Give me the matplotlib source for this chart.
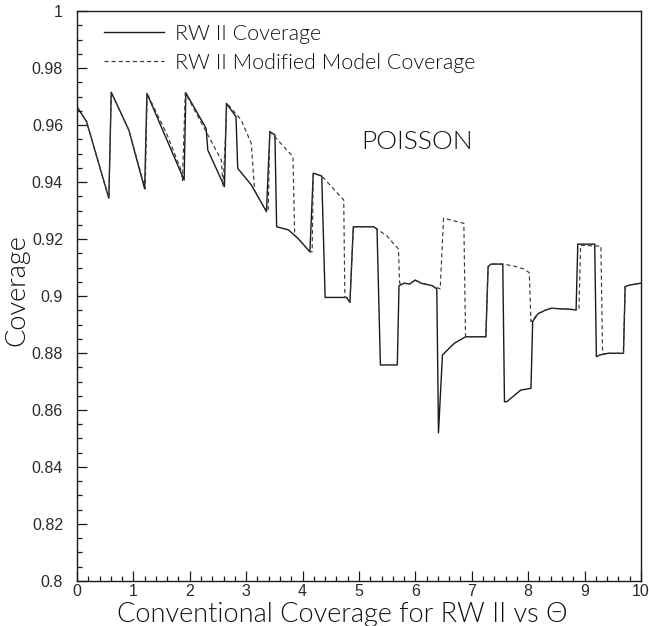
import matplotlib
matplotlib.use("Agg")
import numpy as np
from matplotlib import pyplot as plt
from matplotlib.ticker import MultipleLocator

# RW II coverage (solid)
rw_x = [0.00, 0.17, 0.565, 0.608, 0.92, 1.20, 1.24, 1.90, 1.93, 2.29, 2.32, 2.615,
        2.65, 2.82, 2.85, 3.09, 3.36, 3.42, 3.51, 3.54, 3.75, 3.92, 4.13, 4.19,
        4.34, 4.40, 4.78, 4.84, 4.90, 5.26, 5.32, 5.38, 5.68, 5.71, 5.80, 5.90,
        6.00, 6.10, 6.30, 6.38, 6.41, 6.48, 6.69, 6.89, 7.25, 7.29, 7.34, 7.55,
        7.58, 7.62, 7.87, 8.05, 8.08, 8.17, 8.30, 8.41, 8.77, 8.85, 8.88, 9.18,
        9.21, 9.27, 9.42, 9.69, 9.72, 9.81, 10.0]
rw_y = [0.9664, 0.9612, 0.9343, 0.9715, 0.9582, 0.9376, 0.9711, 0.9407, 0.9713, 0.9588, 0.9512, 0.9384,
        0.9676, 0.9629, 0.9448, 0.9390, 0.9296, 0.9577, 0.9565, 0.9243, 0.9232, 0.9202, 0.9155, 0.9431,
        0.9421, 0.8995, 0.8995, 0.8978, 0.9243, 0.9243, 0.9235, 0.8758, 0.8758, 0.9036, 0.9045, 0.9042,
        0.9056, 0.9045, 0.9036, 0.9025, 0.8520, 0.8793, 0.8834, 0.8857, 0.8857, 0.9103, 0.9112, 0.9112,
        0.8629, 0.8629, 0.8670, 0.8676, 0.8910, 0.8937, 0.8950, 0.8957, 0.8953, 0.8951, 0.9182, 0.9182,
        0.8787, 0.8793, 0.8799, 0.8799, 0.9033, 0.9039, 0.9045]

# RW II modified model coverage (dashed)
mod_x = [0.00, 0.17, 0.565, 0.608, 0.92, 1.21, 1.245, 1.60, 1.84, 1.87, 1.92, 2.56,
         2.59, 2.66, 2.91, 3.09, 3.15, 3.36, 3.39, 3.42, 3.83, 3.86, 3.92, 4.13,
         4.17, 4.19, 4.34, 4.73, 4.75, 4.78, 4.84, 4.90, 5.26, 5.32, 5.50, 5.62,
         5.70, 5.72, 5.80, 5.90, 6.00, 6.10, 6.30, 6.44, 6.50, 6.86, 6.89, 7.25,
         7.29, 7.34, 7.55, 7.75, 7.92, 8.02, 8.05, 8.17, 8.30, 8.41, 8.77, 8.90,
         8.93, 9.29, 9.32, 9.42, 9.69, 9.72, 9.81, 10.0]
mod_y = [0.9664, 0.9612, 0.9343, 0.9715, 0.9582, 0.9376, 0.9711, 0.9565, 0.9445, 0.9405, 0.9713, 0.9477,
         0.9384, 0.9676, 0.9618, 0.9536, 0.9370, 0.9296, 0.9296, 0.9577, 0.9489, 0.9212, 0.9202, 0.9155,
         0.9155, 0.9431, 0.9421, 0.9337, 0.8995, 0.8995, 0.8978, 0.9243, 0.9243, 0.9235, 0.9210, 0.9182,
         0.9165, 0.9045, 0.9045, 0.9042, 0.9056, 0.9045, 0.9036, 0.9025, 0.9273, 0.9255, 0.8857, 0.8857,
         0.9103, 0.9112, 0.9112, 0.9105, 0.9095, 0.9082, 0.8910, 0.8937, 0.8950, 0.8957, 0.8953, 0.8951,
         0.9178, 0.9175, 0.8795, 0.8799, 0.8799, 0.9033, 0.9039, 0.9045]

y_ticks = np.arange(0.8, 1.0001, 0.02)
y_ticklabels = ['0.8', '0.82', '0.84', '0.86', '0.88', '0.9', '0.92',
                '0.94', '0.96', '0.98', '1']

ink = '#1a1a1a'
txt = '#111111'
font = 'Lato'
wt = 300

fig = plt.figure(figsize=(6.49, 6.26), dpi=100)
ax = fig.add_axes([0.1186, 0.0719, 0.8690, 0.9105])

ax.plot(rw_x, rw_y, color=ink, lw=1.0, label='RW II Coverage')
ax.plot(mod_x, mod_y, color='#3a3a3a', lw=0.85, ls=(0, (3.5, 2.5)),
        label='RW II Modified Model Coverage')

ax.set_xlim(0, 10)
ax.set_ylim(0.8, 1.0)
ax.xaxis.set_major_locator(MultipleLocator(1))
ax.xaxis.set_minor_locator(MultipleLocator(0.2))
ax.set_yticks(y_ticks)
ax.set_yticklabels(y_ticklabels)
ax.yaxis.set_minor_locator(MultipleLocator(0.005))

ax.tick_params(which='both', direction='in', color=ink, width=0.9)
ax.tick_params(which='major', length=7)
ax.tick_params(which='minor', length=3.5)
ax.tick_params(axis='y', which='major', pad=10)
ax.tick_params(axis='x', which='major', pad=2)
for lab in ax.get_xticklabels() + ax.get_yticklabels():
    lab.set_fontfamily('Liberation Sans')
    lab.set_fontsize(11.5)
    lab.set_color('#2a2a2a')
for sp in ax.spines.values():
    sp.set_color(ink)
    sp.set_linewidth(1.0)

ax.set_xlabel('Conventional Coverage for RW II vs \u0398', fontsize=19.5,
              family=font, fontweight=wt, color=txt)
ax.xaxis.set_label_coords(0.47, -0.059)
ax.xaxis.label.set_verticalalignment('center')
ax.set_ylabel('Coverage', fontsize=19.5, family=font, fontweight=wt,
              color=txt)
ax.yaxis.set_label_coords(-0.106, 0.51)
ax.yaxis.label.set_verticalalignment('center')

ax.text(6.03, 0.954, 'POISSON', fontsize=19, family=font, fontweight=wt,
        color=txt, ha='center', va='center')

leg = ax.legend(loc='upper left', bbox_to_anchor=(0.025, 1.0), frameon=False,
                prop={'family': font, 'weight': wt, 'size': 15.5},
                handlelength=2.8, handletextpad=0.5, labelspacing=0.42,
                borderaxespad=0.3, borderpad=0.3)
for t in leg.get_texts():
    t.set_color(txt)

fig.savefig('out.png', dpi=100)
